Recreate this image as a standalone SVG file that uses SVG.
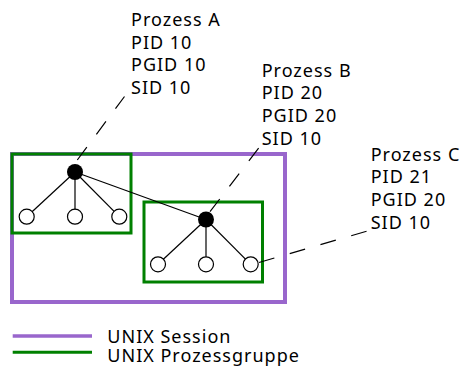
<svg xmlns="http://www.w3.org/2000/svg" width="464" height="369" viewBox="0 0 464 369">
<style>
text{font-family:"Noto Sans","Open Sans",sans-serif;font-size:18px;letter-spacing:1px;fill:#000}
.session{fill:none;stroke:#9966cc;stroke-width:4}
.group{fill:none;stroke:#008000;stroke-width:3}
.edge{stroke:#000;stroke-width:1.2;fill:none}
.lead{stroke:#000;stroke-width:1.2;fill:none;stroke-dasharray:16 16}
.child{fill:#fff;stroke:#000;stroke-width:1.2}
.parent{fill:#000}
</style>
<rect width="464" height="369" fill="#fff"/>
<g id="session"><rect class="session" x="12" y="154" width="273" height="148"/></g>
<g id="group-a"><rect class="group" x="12" y="154" width="119" height="79"/></g>
<g id="group-b"><rect class="group" x="144" y="202" width="118.5" height="80"/></g>
<g id="connectors">
<line class="edge" x1="75" y1="172" x2="206" y2="219.5"/>
<line class="edge" x1="75" y1="172" x2="26.7" y2="216.7"/>
<line class="edge" x1="75" y1="172" x2="75" y2="216.7"/>
<line class="edge" x1="75" y1="172" x2="119.3" y2="216.7"/>
<line class="edge" x1="206" y1="219.5" x2="158" y2="264.3"/>
<line class="edge" x1="206" y1="219.5" x2="206" y2="264.3"/>
<line class="edge" x1="206" y1="219.5" x2="250.7" y2="264.3"/>
<line class="lead" x1="77.3" y1="160" x2="124.5" y2="96.5"/>
<line class="lead" x1="210" y1="211.7" x2="259.5" y2="147"/>
<line class="lead" x1="259" y1="262.5" x2="368.5" y2="230.7"/>
</g>
<g id="proc-a">
<circle class="parent" cx="75" cy="172" r="8"/>
<circle class="child" cx="26.7" cy="216.7" r="7.5"/>
<circle class="child" cx="75" cy="216.7" r="7.5"/>
<circle class="child" cx="119.3" cy="216.7" r="7.5"/>
<text x="131" y="26">Prozess A</text>
<text x="131" y="48.7">PID 10</text>
<text x="131" y="71.3">PGID 10</text>
<text x="131" y="94">SID 10</text>
</g>
<g id="proc-b">
<circle class="parent" cx="206" cy="219.5" r="8"/>
<circle class="child" cx="158" cy="264.3" r="7.5"/>
<circle class="child" cx="206" cy="264.3" r="7.5"/>
<text x="261.7" y="76.7">Prozess B</text>
<text x="261.7" y="99.4">PID 20</text>
<text x="261.7" y="122.2">PGID 20</text>
<text x="261.7" y="145">SID 10</text>
</g>
<g id="proc-c">
<circle class="child" cx="250.7" cy="264.3" r="7.5"/>
<text x="370.7" y="160.7">Prozess C</text>
<text x="370.7" y="183.4">PID 21</text>
<text x="370.7" y="206.2">PGID 20</text>
<text x="370.7" y="229">SID 10</text>
</g>
<g id="legend">
<line x1="12.7" y1="336" x2="92" y2="336" stroke="#9966cc" stroke-width="3.5"/>
<line x1="12.7" y1="352.3" x2="92" y2="352.3" stroke="#008000" stroke-width="3"/>
<text x="107.3" y="343.3">UNIX Session</text>
<text x="107.3" y="362.3">UNIX Prozessgruppe</text>
</g>
</svg>
